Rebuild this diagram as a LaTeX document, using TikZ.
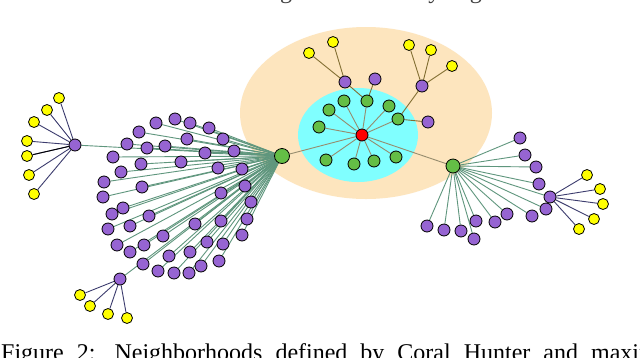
\documentclass[tikz,border=0pt]{standalone}
\usepackage{fontspec}
\setmainfont{Liberation Serif}
\pgfdeclarelayer{back}
\pgfdeclarelayer{edges}
\pgfsetlayers{back,edges,main}
\definecolor{beige}{RGB}{253,229,190}
\definecolor{cyanb}{RGB}{128,255,255}
\definecolor{purpc}{RGB}{150,100,210}
\definecolor{greenc}{RGB}{100,190,70}
\definecolor{yellc}{RGB}{255,255,0}
\definecolor{redc}{RGB}{255,0,0}
\definecolor{tealc}{RGB}{95,150,125}
\definecolor{navyc}{RGB}{60,60,110}
\definecolor{brownc}{RGB}{150,140,110}
\definecolor{olivec}{RGB}{130,110,50}
\tikzset{
  vtx/.style={circle,draw=black,line width=0.8pt,inner sep=0pt},
  purp/.style={vtx,fill=purpc,minimum size=12pt},
  grn/.style={vtx,fill=greenc,minimum size=12pt},
  biggrn/.style={vtx,fill=greenc,minimum size=15pt},
  yel/.style={vtx,fill=yellc,minimum size=11pt},
  rednode/.style={vtx,fill=redc,minimum size=12pt},
  tealedge/.style={draw=tealc,line width=0.9pt},
  navyedge/.style={draw=navyc,line width=0.9pt},
  brownedge/.style={draw=brownc,line width=0.9pt},
  oliveedge/.style={draw=olivec,line width=0.9pt},
  txt/.style={inner sep=0pt,font=\fontsize{24}{28}\selectfont}
}
\begin{document}
\begin{tikzpicture}[x=1pt,y=-1pt]
\useasboundingbox (0,0) rectangle (640,357);
\begin{pgfonlayer}{back}
\fill[white] (0,0) rectangle (640,357);
\fill[beige] (366,113) ellipse [x radius=126, y radius=86];
\fill[cyanb] (358,135) ellipse [x radius=60, y radius=47];
\end{pgfonlayer}
% header and caption (clipped by page)
\node[txt,anchor=base west,text=black!75] (hdr) at (184,-2) {Proceedings of the Twenty-Eighth International Joint Conference on Artificial Intelligence (IJCAI-19)};
\node[txt,anchor=base west] (cap) at (1,360) {\spaceskip=13pt\relax Figure 2:\hspace{4pt} Neighborhoods defined by Coral Hunter and maximi};
% central part
\node[rednode] (R) at (362,135) {};
\foreach \x/\y [count=\i] in {344/101,367/101,389/106,329/110,398/119,319/127,326/160,354/164,374/161,396/157}
  \node[grn] (c\i) at (\x,\y) {};
\node[biggrn] (GL) at (282,156) {};
\node[biggrn,minimum size=14pt] (GR) at (453,166) {};
\node[purp] (pa) at (345,82) {};
\node[purp] (pb) at (375,79) {};
\node[purp] (pc) at (422,86) {};
\node[purp] (pd) at (428,122) {};
\node[yel] (ya) at (309,53) {};
\node[yel] (yb) at (333,42) {};
\node[yel] (yc) at (409,45) {};
\node[yel] (yd) at (431,50) {};
\node[yel] (ye) at (452,66) {};
% left cluster
\foreach \x/\y [count=\i] in {156/123,175/119,190/123,209/128,139/132,187/139,223/139,127/144,147/148,165/146,205/153,234/151,113/157,141/164,181/162,218/168,242/169,121/172,104/182,142/187,245/186,221/193,103/197,123/208,112/214,251/202,149/216,108/229,130/226,195/224,221/221,247/219,163/236,242/235,117/245,144/245,207/242,223/244,130/252,169/256,190/252,219/261,143/264,158/271,174/273,189/273,201/266}
  \node[purp] (l\i) at (\x,\y) {};
\node[purp] (LH) at (75,145) {};
\node[purp] (BH) at (120,279) {};
\foreach \x/\y [count=\i] in {59/98,47/110,34/122,27/141,27/156,29/175,34/194}
  \node[yel] (ly\i) at (\x,\y) {};
\foreach \x/\y [count=\i] in {80/295,90/306,108/314,127/318}
  \node[yel] (by\i) at (\x,\y) {};
% right cluster
\foreach \x/\y [count=\i] in {520/138,525/155,536/167,539/184,546/209,532/216,507/214,495/222,476/221,474/239,461/231,444/230,427/226}
  \node[purp] (r\i) at (\x,\y) {};
\node[purp] (RH) at (550,197) {};
\foreach \x/\y [count=\i] in {587/175,600/189,603/204,594/219,579/229}
  \node[yel] (ry\i) at (\x,\y) {};
% edges
\begin{pgfonlayer}{edges}
\foreach \i in {1,...,10} \draw[brownedge] (R) -- (c\i);
\draw[brownedge] (R) -- (GL);
\draw[brownedge] (R) -- (GR);
\draw[oliveedge] (c2) -- (pa);
\draw[oliveedge] (c2) -- (pb);
\draw[oliveedge] (c5) -- (pc);
\draw[oliveedge] (c5) -- (pd);
\draw[oliveedge] (pa) -- (ya);
\draw[oliveedge] (pa) -- (yb);
\draw[oliveedge] (pc) -- (yc);
\draw[oliveedge] (pc) -- (yd);
\draw[oliveedge] (pc) -- (ye);
\foreach \i in {1,...,47} \draw[tealedge] (GL) -- (l\i);
\draw[tealedge] (GL) -- (LH);
\draw[tealedge] (GL) -- (BH);
\foreach \i in {1,...,7} \draw[navyedge] (LH) -- (ly\i);
\draw[draw=black,line width=0.9pt] (LH) -- (ly5);
\foreach \i in {1,...,4} \draw[navyedge] (BH) -- (by\i);
\foreach \i in {1,...,13} \draw[tealedge] (GR) -- (r\i);
\draw[tealedge] (GR) -- (RH);
\foreach \i in {1,...,5} \draw[navyedge] (RH) -- (ry\i);
\end{pgfonlayer}
\end{tikzpicture}
\end{document}
